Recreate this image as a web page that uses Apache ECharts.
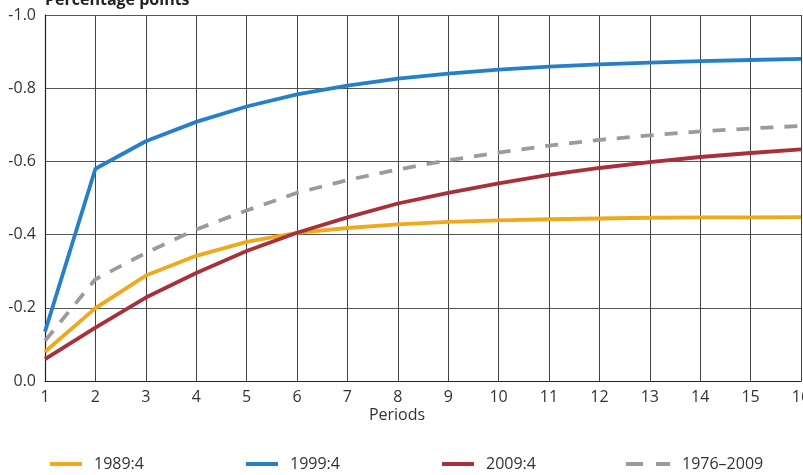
<!DOCTYPE html>
<html>
<head>
<meta charset="utf-8">
<script src="https://cdn.jsdelivr.net/npm/echarts@6/dist/echarts.min.js"></script>
<style>html,body{margin:0;padding:0;background:#fff}#c{width:803px;height:475px}</style>
</head>
<body>
<div id="c"></div>
<script>
var periods = [1,2,3,4,5,6,7,8,9,10,11,12,13,14,15,16];
var s1989 = [-0.080,-0.199,-0.288,-0.342,-0.380,-0.405,-0.418,-0.428,-0.435,-0.439,-0.442,-0.444,-0.446,-0.447,-0.447,-0.448];
var s1999 = [-0.135,-0.580,-0.655,-0.708,-0.750,-0.783,-0.807,-0.826,-0.840,-0.851,-0.859,-0.865,-0.870,-0.874,-0.877,-0.880];
var s2009 = [-0.060,-0.146,-0.228,-0.295,-0.355,-0.405,-0.447,-0.485,-0.514,-0.540,-0.563,-0.582,-0.598,-0.612,-0.623,-0.633];
var s7609 = [-0.110,-0.278,-0.350,-0.414,-0.466,-0.514,-0.549,-0.578,-0.603,-0.624,-0.643,-0.659,-0.671,-0.682,-0.690,-0.697];
var names = ['1989:4','1999:4','2009:4','1976\u20132009'];
var yTicks = [-1.0,-0.8,-0.6,-0.4,-0.2,0.0];
var colors = ['#F0A81C','#2580C8','#A8303A','#9B9B9B'];

function pairs(arr){ return periods.map(function(p,i){ return [p, arr[i]]; }); }
var font = '"Open Sans","Noto Sans",sans-serif';
var chart = echarts.init(document.getElementById('c'));
function mkSeries(name, data, color, dashed){
  return {
    name: name, type: 'line', data: pairs(data), symbol: 'none', smooth: false,
    lineStyle: {color: color, width: 3.8, type: dashed ? [13,11] : 'solid'},
    itemStyle: {color: color}
  };
}
var solidIcon = 'path://M0,0h32v4H0z';
var dashIcon = 'path://M0,0h17v4H0zM30,0h14v4H30z';
function mkLegend(name, left, w, icon){
  return {
    data: [{name: name, icon: icon}], left: left, top: 451, itemWidth: w, itemHeight: 4,
    textStyle: {fontFamily: font, fontSize: 16, color: '#333', padding: [0,0,0,7]}
  };
}
chart.setOption({
  animation: false,
  grid: {left: 45, right: 2, top: 15, bottom: 94, containLabel: false, outerBoundsMode: 'none'},
  xAxis: {
    type: 'value', min: 1, max: 16, interval: 1,
    axisLine: {show: true, onZero: false, lineStyle: {color: '#222', width: 1.2}},
    axisTick: {show: false},
    axisLabel: {fontFamily: font, fontSize: 16, color: '#333', margin: 8,
      formatter: function(v){ return String(v); }},
    splitLine: {show: true, lineStyle: {color: '#444', width: 1}}
  },
  yAxis: {
    type: 'value', min: yTicks[0], max: yTicks[yTicks.length-1], interval: 0.2, inverse: true,
    axisLine: {show: true, lineStyle: {color: '#222', width: 1.2}},
    axisTick: {show: false},
    axisLabel: {fontFamily: font, fontSize: 16, color: '#333', margin: 9,
      formatter: function(v){ return (Math.abs(v) < 1e-9 ? 0 : v).toFixed(1); }},
    splitLine: {show: true, lineStyle: {color: '#555', width: 1}}
  },
  legend: [
    mkLegend(names[0], 45, 32, solidIcon),
    mkLegend(names[1], 241, 32, solidIcon),
    mkLegend(names[2], 437, 32, solidIcon),
    mkLegend(names[3], 621, 44, dashIcon)
  ],
  graphic: [
    {type: 'text', x: 45, y: 8, style: {text: 'Percentage points', fontFamily: font, fontSize: 16, fontWeight: 'bold', fill: '#222', textVerticalAlign: 'bottom'}},
    {type: 'text', x: 397, y: 415, style: {text: 'Periods', fontFamily: font, fontSize: 16, fill: '#333', textAlign: 'center', textVerticalAlign: 'middle'}}
  ],
  series: [
    mkSeries(names[0], s1989, colors[0], false),
    mkSeries(names[1], s1999, colors[1], false),
    mkSeries(names[2], s2009, colors[2], false),
    mkSeries(names[3], s7609, colors[3], true)
  ]
});
</script>
</body>
</html>
